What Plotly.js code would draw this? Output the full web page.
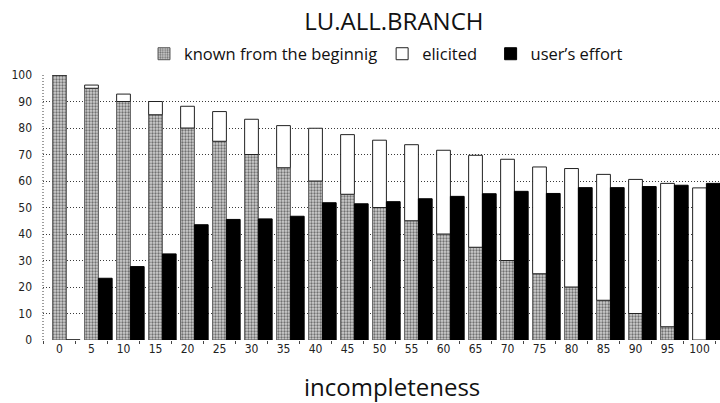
<!DOCTYPE html>
<html>
<head>
<meta charset="utf-8">
<script src="https://cdn.plot.ly/plotly-3.0.1.min.js"></script>
<style>html,body{margin:0;padding:0;background:#fff;}#chart{width:720px;height:403px;}</style>
</head>
<body>
<div id="chart"></div>
<script>
// Data
var categories = ['0','5','10','15','20','25','30','35','40','45','50','55','60','65','70','75','80','85','90','95','100'];
var knownFromBeginning = [100,95,90,85,80,75,70,65,60,55,50,45,40,35,30,25,20,15,10,5,0];
var elicited = [0,1.2,2.8,5,8.2,11.2,13.3,15.9,19.9,22.5,25.4,28.7,31.6,34.7,38.2,40.3,44.7,47.5,50.6,54.1,57.4];
var usersEffort = [0,23.3,27.7,32.5,43.5,45.5,45.7,46.7,51.8,51.4,52.2,53.3,54.2,55.2,56.1,55.3,57.5,57.5,57.9,58.4,59.1];
var yTicks = [0,10,20,30,40,50,60,70,80,90,100];

var BW = 0.43;
var tickFont = {family: 'Liberation Sans Narrow, DejaVu Sans Condensed, Arial, sans-serif', size: 12, color: '#222'};
var textFont = 'Open Sans, Noto Sans, sans-serif';

var traces = [
  {
    type: 'bar', name: 'known from the beginnig',
    x: categories, y: knownFromBeginning,
    width: BW, offset: -BW/2,
    marker: {color: '#c4c4c4', line: {color: '#5a5a5a', width: 1},
             pattern: {shape: '.', fgcolor: '#707070', bgcolor: '#d0d0d0', size: 3, solidity: 0.45}},
    hoverinfo: 'skip'
  },
  {
    type: 'bar', name: 'elicited\u00a0\u00a0',
    x: categories, y: elicited, base: knownFromBeginning,
    width: BW, offset: -BW/2,
    marker: {color: '#ffffff', line: {color: '#222', width: 1}},
    hoverinfo: 'skip'
  },
  {
    type: 'bar', name: "user\u2019s effort",
    x: categories, y: usersEffort,
    width: BW, offset: BW/2,
    marker: {color: '#000000', line: {color: '#000', width: 1}},
    hoverinfo: 'skip'
  }
];

var layout = {
  width: 720, height: 403,
  margin: {l: 43, r: 0, t: 75, b: 63},
  paper_bgcolor: '#fff', plot_bgcolor: '#fff',
  barmode: 'overlay',
  title: {text: 'LU.ALL.BRANCH', font: {family: textFont, size: 24, color: '#111'},
          xref: 'container', x: 0.547, xanchor: 'center', yref: 'container', y: 0.946, yanchor: 'middle'},
  showlegend: true,
  legend: {orientation: 'h', xref: 'container', x: 0.2, xanchor: 'left',
           yref: 'container', y: 0.866, yanchor: 'middle',
           font: {family: textFont, size: 16.5, color: '#111'}, traceorder: 'normal',
           bgcolor: 'rgba(0,0,0,0)'},
  xaxis: {type: 'category', range: [-0.516, 20.64], showgrid: false, zeroline: false,
          showline: false, ticks: 'outside', tickson: 'boundaries', ticklen: 3,
          tickcolor: '#444', tickfont: tickFont, fixedrange: true},
  yaxis: {range: [0, 100], tickvals: yTicks, showgrid: true, gridcolor: '#3a3a3a',
          griddash: '1px,2px', gridwidth: 1, zeroline: false, showline: false,
          ticks: '', ticklabelstandoff: 10, tickfont: tickFont, fixedrange: true},
  shapes: [
    {type: 'line', xref: 'paper', yref: 'paper', x0: 0, x1: 0, y0: 0, y1: 1,
     line: {color: '#3a3a3a', width: 1, dash: '1px,2px'}, layer: 'below'}
  ],
  annotations: [
    {text: 'incompleteness', xref: 'paper', x: 0.5155, xanchor: 'center',
     yref: 'paper', y: -0.177, yanchor: 'middle', showarrow: false,
     font: {family: textFont, size: 24, color: '#111'}}
  ]
};

Plotly.newPlot('chart', traces, layout, {staticPlot: true, displayModeBar: false});
</script>
</body>
</html>
